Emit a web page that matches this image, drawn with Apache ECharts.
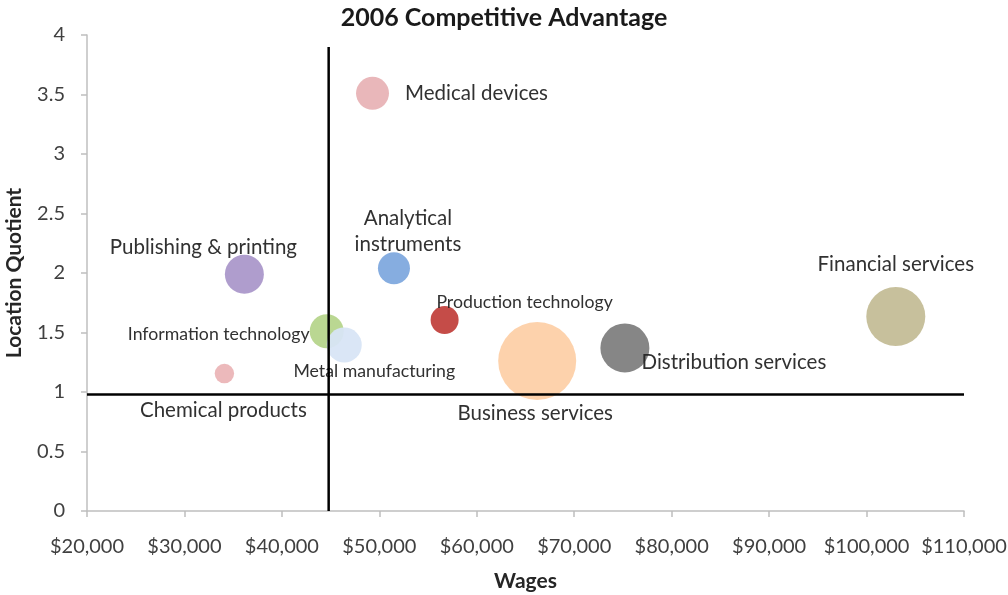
<!DOCTYPE html>
<html>
<head>
<meta charset="utf-8">
<script src="https://cdn.jsdelivr.net/npm/echarts@6/dist/echarts.min.js"></script>
<style>html,body{margin:0;padding:0;background:#fff}#c{width:1008px;height:595px}</style>
</head>
<body>
<div id="c"></div>
<script>
// ---- data ----
const clusters = ["Medical devices","Analytical instruments","Publishing & printing","Information technology","Metal manufacturing","Chemical products","Production technology","Business services","Distribution services","Financial services"];
const wages    = [49300, 51500, 36150, 44600, 46400, 34100, 56700, 66200, 75200, 103000];
const lq       = [3.51, 2.04, 1.99, 1.51, 1.395, 1.155, 1.605, 1.26, 1.37, 1.634];
const bubbleSize = [272, 256, 380, 289, 306, 94, 196, 1521, 600, 870];
const labelText = ["Medical devices","Analytical\ninstruments","Publishing & printing","Information technology","Metal manufacturing","Chemical products","Production technology","Business services","Distribution services","Financial services"];
const avgWage = 44800;
const avgLQ = 0.98;
const vLineTop = 3.9;
const xTicks = [20000, 110000, 10000];
const yTicks = [0, 4, 0.5];

// ---- styles ----
const colors = ["#e8b3b6","#80a9de","#ab98ca","#b6d58c","#d8e5f5","#ebb5b7","#c2423e","#fdd0a8","#7f7f7f","#c4bd97"];
const offsets = [[104,0],[14,-37],[-41,-27],[-108,3],[30,26],[-1,37],[80,-18],[-2,52],[109,14],[0,-52]];
const fsize = [20.5,20.5,20.5,17.7,17.7,20.5,17.7,20.5,20.5,20.5];
const FONT = "Lato";

const data = clusters.map((n,i)=>({
  name:n,
  value:[wages[i], lq[i], bubbleSize[i]],
  itemStyle:{color:colors[i]},
  label:{show:true, formatter:labelText[i], position:'inside', align:'center', verticalAlign:'middle',
    offset:offsets[i], fontSize:fsize[i], color:'#262626', fontFamily:FONT, lineHeight:26}
}));

const chart = echarts.init(document.getElementById('c'), null, {renderer:'canvas'});
chart.setOption({
  animation:false,
  title:{text:'2006 Competitive Advantage', left:'center', top:0,
    textStyle:{fontFamily:FONT, fontWeight:'bold', fontSize:25, color:'#1a1a1a'}},
  grid:{left:87, right:44, top:35, bottom:84, containLabel:false, outerBoundsMode:'none'},
  xAxis:{type:'value', min:xTicks[0], max:xTicks[1], interval:xTicks[2],
    name:'Wages', nameLocation:'middle', nameGap:60,
    nameTextStyle:{fontFamily:FONT, fontWeight:'bold', fontSize:21, color:'#262626'},
    axisLine:{show:true, lineStyle:{color:'#bfbfbf', width:1.5}},
    axisTick:{show:true, length:6, lineStyle:{color:'#bfbfbf', width:1.5}},
    splitLine:{show:false},
    axisLabel:{fontFamily:FONT, fontSize:20, color:'#404040', margin:26,
      formatter:v=>'$'+v.toLocaleString('en-US')}},
  yAxis:{type:'value', min:yTicks[0], max:yTicks[1], interval:yTicks[2],
    name:'Location Quotient', nameLocation:'middle', nameGap:62, nameRotate:90,
    nameTextStyle:{fontFamily:FONT, fontWeight:'bold', fontSize:21, color:'#262626'},
    axisLine:{show:true, lineStyle:{color:'#bfbfbf', width:1.5}},
    axisTick:{show:true, length:6, lineStyle:{color:'#bfbfbf', width:1.5}},
    splitLine:{show:false},
    axisLabel:{fontFamily:FONT, fontSize:20, color:'#404040', margin:22}},
  series:[
    {type:'scatter', data:data, symbolSize:v=>2*Math.sqrt(v[2]), z:2,
      itemStyle:{opacity:0.95}},
    {type:'line', data:[[avgWage, yTicks[0]],[avgWage, vLineTop]], symbol:'none', z:5,
      lineStyle:{color:'#000', width:2.5}, silent:true},
    {type:'line', data:[[xTicks[0], avgLQ],[xTicks[1], avgLQ]], symbol:'none', z:5,
      lineStyle:{color:'#000', width:2.5}, silent:true}
  ]
});
</script>
</body>
</html>
